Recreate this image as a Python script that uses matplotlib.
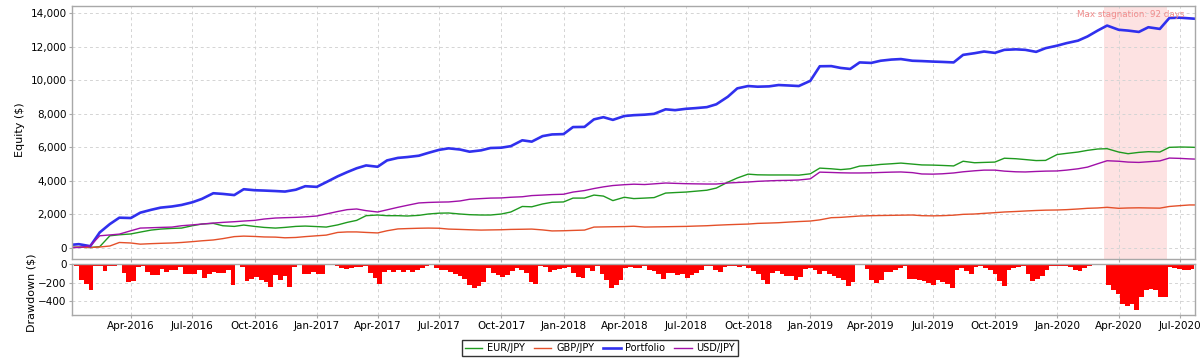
import pandas as pd
import matplotlib
matplotlib.use("Agg")
import matplotlib.pyplot as plt
import matplotlib.dates as mdates
from matplotlib.ticker import FuncFormatter

# semi-monthly equity readings (1st and 15th of each month), last point 2020-07-22
dates = list(pd.date_range("2016-01-01", "2020-07-15", freq="SMS")) + [pd.Timestamp("2020-07-22")]

portfolio = [
    150, 200, 80, 900, 1400, 1780, 1760, 2080, 2250, 2380, 2450, 2540,
    2700, 2900, 3240, 3200, 3130, 3480, 3420, 3400, 3370, 3340, 3450, 3660,
    3620, 3900, 4250, 4500, 4730, 4900, 4820, 5200, 5350, 5400, 5480, 5650,
    5830, 5920, 5850, 5720, 5800, 5940, 5960, 6050, 6400, 6320, 6650, 6750,
    6770, 7190, 7200, 7650, 7780, 7620, 7850, 7900, 7930, 7980, 8250, 8200,
    8280, 8320, 8380, 8550, 9000, 9500, 9640, 9600, 9620, 9700, 9670, 9640,
    9950, 10820, 10830, 10720, 10660, 11050, 11020, 11150, 11220, 11250, 11150, 11130,
    11100, 11080, 11050, 11500, 11600, 11700, 11620, 11800, 11830, 11800, 11680, 11900,
    12050, 12200, 12350, 12600, 12950, 13250, 13000, 12950, 12870, 13150, 13050, 13700,
    13720, 13680, 13660,
]
eurjpy = [
    0, 20, 0, 50, 700, 760, 810, 920, 1040, 1100, 1140, 1160,
    1300, 1400, 1440, 1300, 1260, 1340, 1260, 1200, 1160, 1200, 1260, 1280,
    1250, 1220, 1350, 1500, 1620, 1900, 1940, 1900, 1900, 1880, 1920, 2000,
    2050, 2060, 2000, 1960, 1940, 1940, 2000, 2120, 2450, 2430, 2600, 2700,
    2720, 2950, 2950, 3130, 3070, 2800, 3000, 2920, 2950, 2980, 3250, 3280,
    3310, 3360, 3420, 3550, 3900, 4150, 4380, 4340, 4330, 4330, 4330, 4320,
    4400, 4740, 4700, 4650, 4700, 4860, 4900, 4960, 5000, 5040, 4980, 4930,
    4920, 4900, 4870, 5150, 5060, 5080, 5100, 5330, 5300, 5250, 5190, 5200,
    5550, 5620, 5700, 5800, 5880, 5900, 5700, 5600, 5680, 5720, 5700, 5980,
    6000, 5990, 5980,
]
usdjpy = [
    0, 0, 100, 700, 750, 800, 1000, 1160, 1180, 1200, 1220, 1300,
    1350, 1400, 1460, 1500, 1540, 1580, 1620, 1700, 1760, 1780, 1800, 1830,
    1880, 2000, 2150, 2260, 2300, 2200, 2120, 2250, 2400, 2520, 2660, 2690,
    2710, 2720, 2780, 2880, 2920, 2950, 2960, 3000, 3030, 3100, 3130, 3160,
    3180, 3310, 3400, 3520, 3620, 3700, 3750, 3780, 3760, 3800, 3850, 3830,
    3810, 3800, 3790, 3790, 3850, 3880, 3910, 3950, 3980, 4000, 4010, 4030,
    4100, 4500, 4480, 4460, 4450, 4450, 4460, 4480, 4500, 4510, 4470, 4390,
    4380, 4400, 4450, 4520, 4580, 4620, 4620, 4560, 4520, 4510, 4540, 4560,
    4570, 4620, 4700, 4800, 5000, 5180, 5150, 5100, 5080, 5120, 5170, 5340,
    5320, 5290, 5280,
]
gbpjpy = [
    0, 20, 0, 30, 90, 300, 270, 200, 230, 250, 270, 300,
    350, 400, 450, 530, 650, 680, 660, 630, 620, 580, 600, 650,
    700, 740, 900, 930, 930, 900, 870, 1000, 1110, 1130, 1150, 1160,
    1150, 1100, 1080, 1060, 1040, 1050, 1060, 1080, 1090, 1100, 1050, 990,
    1000, 1020, 1040, 1220, 1230, 1240, 1250, 1270, 1220, 1230, 1240, 1250,
    1260, 1280, 1300, 1330, 1360, 1380, 1400, 1440, 1460, 1480, 1520, 1550,
    1580, 1650, 1780, 1800, 1840, 1880, 1900, 1910, 1920, 1930, 1940, 1900,
    1890, 1900, 1930, 1980, 2000, 2040, 2080, 2120, 2150, 2180, 2210, 2230,
    2240, 2260, 2300, 2340, 2360, 2400, 2340, 2360, 2370, 2360, 2350, 2450,
    2500, 2540, 2540,
]

# weekly drawdown readings starting 2016-01-05
drawdown = [
    0, -20, -175, -214, -280, -20, -20, -80, -25, -25, -5, -95, -193, -180, -30, -25,
    -90, -120, -120, -50, -85, -68, -60, -30, -110, -110, -110, -60, -150, -103, -86, -96,
    -96, -68, -220, -15, -30, -182, -157, -140, -168, -193, -250, -120, -175, -132, -245, -30,
    -15, -103, -103, -86, -110, -103, -15, -15, -25, -40, -50, -40, -30, -30, -20, -96,
    -146, -210, -86, -60, -82, -68, -86, -68, -82, -60, -40, -25, -10, -43, -60, -68,
    -86, -103, -132, -160, -228, -253, -232, -193, -40, -96, -121, -139, -121, -75, -40, -60,
    -96, -193, -210, -25, -30, -86, -68, -53, -46, -32, -96, -139, -146, -40, -75, -25,
    -103, -175, -253, -228, -175, -40, -32, -43, -43, -18, -60, -75, -103, -160, -96, -96,
    -121, -103, -146, -114, -96, -60, -25, -20, -68, -86, -32, -18, -25, -32, -18, -40,
    -75, -103, -168, -210, -96, -75, -110, -132, -132, -168, -140, -50, -46, -68, -110, -75,
    -103, -125, -146, -175, -240, -193, -15, -15, -50, -168, -200, -175, -86, -86, -68, -43,
    -18, -157, -157, -168, -182, -203, -221, -175, -193, -218, -253, -68, -46, -75, -110, -32,
    -25, -43, -60, -103, -185, -230, -60, -43, -32, -18, -103, -185, -164, -132, -68, -18,
    -25, -18, -18, -32, -60, -78, -43, -20, -15, -15, -15, -228, -282, -325, -432, -453,
    -428, -489, -353, -282, -264, -282, -353, -353, -32, -43, -57, -68, -68, -50,
]
dd_dates = pd.date_range("2016-01-05", periods=len(drawdown), freq="7D")

stag_start = pd.Timestamp("2020-03-11")
stag_end = pd.Timestamp("2020-06-11")

fig = plt.figure(figsize=(12.02, 3.61), dpi=100)
ax = fig.add_axes([72 / 1202, 1 - 259.3 / 361, 1123 / 1202, 253.3 / 361])
ax2 = fig.add_axes([72 / 1202, 1 - 315 / 361, 1123 / 1202, 51 / 361], sharex=ax)

ax.axvspan(stag_start, stag_end, color="#fde2e2", lw=0, zorder=0)
ax.plot(dates, eurjpy, color="#1f9a1f", lw=1.0, label="EUR/JPY")
ax.plot(dates, gbpjpy, color="#e4502a", lw=1.0, label="GBP/JPY")
ax.plot(dates, portfolio, color="#3030ee", lw=1.9, label="Portfolio")
ax.plot(dates, usdjpy, color="#a010a8", lw=1.0, label="USD/JPY")
ax.text(0.991, 0.965, "Max stagnation: 92 days", transform=ax.transAxes,
        ha="right", va="center", fontsize=6.3, color="#f08c8c")

ax2.fill_between(dd_dates, drawdown, 0, step="mid", color="#ff0000", lw=0)

ax.set_ylim(-704, 14418)
ax2.set_ylim(-545, 0)
ax.set_xlim(pd.Timestamp("2016-01-05"), pd.Timestamp("2020-07-23"))
ax.set_yticks(range(0, 14001, 2000))
ax.yaxis.set_major_formatter(FuncFormatter(lambda v, p: f"{int(v):,}"))
ax2.set_yticks([0, -200, -400])
ax2.xaxis.set_major_locator(mdates.MonthLocator(bymonth=[1, 4, 7, 10]))
ax2.xaxis.set_major_formatter(mdates.DateFormatter("%b-%Y"))
plt.setp(ax.get_xticklabels(), visible=False)

for a in (ax, ax2):
    a.grid(True, color="#d4d4d4", linestyle=(0, (3, 3)), linewidth=0.7)
    a.set_axisbelow(True)
    for s in a.spines.values():
        s.set_color("#a8a8a8")
        s.set_linewidth(1.0)
    a.tick_params(length=2, color="#a8a8a8", labelsize=7.5, pad=2)

fig.text(20 / 1202, 1 - 130 / 361, "Equity ($)", rotation=90, ha="center", va="center", fontsize=8)
fig.text(31 / 1202, 1 - 293 / 361, "Drawdown ($)", rotation=90, ha="center", va="center", fontsize=8)

leg = fig.legend(loc="center", bbox_to_anchor=(600 / 1202, 1 - 348 / 361), ncol=4,
                 fontsize=7, frameon=True, fancybox=False, handlelength=1.8,
                 borderpad=0.3, columnspacing=0.9, handletextpad=0.5)
leg.get_frame().set_edgecolor("black")
leg.get_frame().set_linewidth(1.0)

fig.savefig("out.png", dpi=100)
